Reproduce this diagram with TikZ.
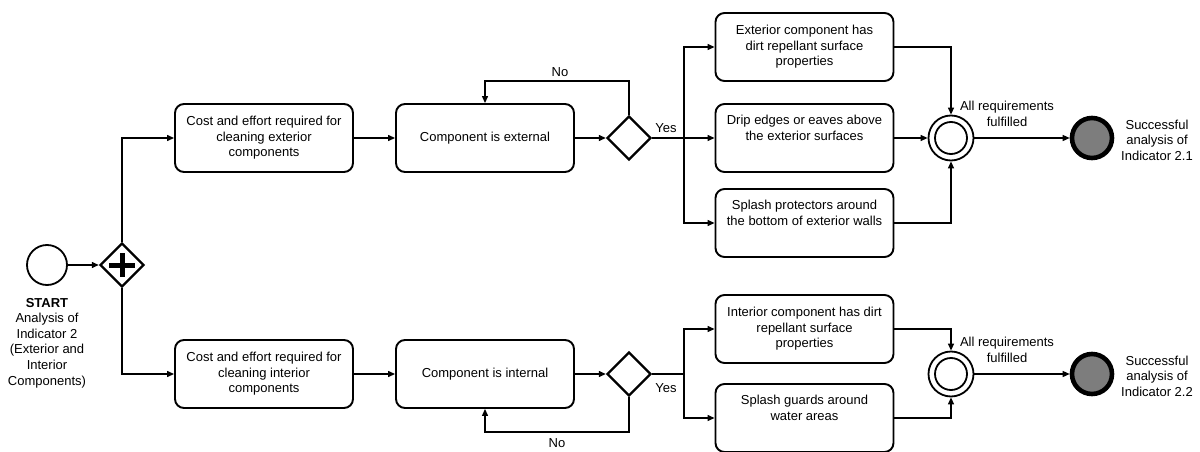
\documentclass[tikz,border=0pt]{standalone}
\usepackage{fontspec}
\setmainfont{Liberation Sans}
\usetikzlibrary{arrows.meta,shapes.geometric}
\definecolor{endgray}{RGB}{125,125,125}
\begin{document}
\begin{tikzpicture}[x=1pt,y=-1pt,
  txt/.style={font=\fontsize{13}{15.6}\selectfont, align=center},
  task/.style={txt, draw, line width=1.9pt, rounded corners=9pt,
    minimum width=178pt, minimum height=68pt, inner sep=2pt},
  gw/.style={diamond, draw, line width=2.4pt, minimum width=44pt,
    minimum height=44pt, inner sep=0pt},
  startev/.style={circle, draw, line width=1.8pt, minimum size=40pt, inner sep=0pt},
  interev/.style={circle, draw, line width=1.8pt, minimum size=45pt, inner sep=0pt},
  interin/.style={circle, draw, line width=1.8pt, minimum size=32pt, inner sep=0pt},
  endev/.style={circle, draw, line width=4.6pt, fill=endgray, minimum size=40pt, inner sep=0pt},
  flow/.style={line width=1.3pt, -{Triangle[length=7pt,width=6pt]}},
  plain/.style={line width=1.3pt},
  lbl/.style={txt, inner sep=0pt}
]
\useasboundingbox (0,0) rectangle (1200,452);

% start event and parallel split
\node[startev] (start) at (47,265) {};
\node[lbl] (startlbl) at (47,343)
  {\textbf{START}\\Analysis of\\Indicator 2\\(Exterior and\\Interior\\Components)};
\node[gw] (fork) at (122,265) {};
\draw[line width=5pt] (fork.center) ++(-13,0) -- ++(26,0)
                      (fork.center) ++(0,-12) -- ++(0,24);

% exterior branch
\node[task] (a1) at (264,138) {Cost and effort required for\\cleaning exterior\\components};
\node[task] (a2) at (485,138) {Component is external};
\node[gw] (g1) at (629,138) {};
\coordinate (j1) at (684,138);
\coordinate (n1) at (629,81);
\node[task] (c1) at (804.5,47) {Exterior component has\\dirt repellant surface\\properties};
\node[task] (c2) at (804.5,138) {Drip edges or eaves above\\the exterior surfaces\\\strut};
\node[task] (c3) at (804.5,223) {Splash protectors around\\the bottom of exterior walls\\\strut};
\node[interev] (m1) at (951,138) {};
\node[interin] (m1i) at (951,138) {};
\node[endev] (e1) at (1092,138) {};

\node[lbl] (no1) at (560,72) {No};
\node[lbl] (yes1) at (666,128) {Yes};
\node[lbl] (req1) at (1007,114) {All requirements\\fulfilled};
\node[lbl] (s1) at (1157,140) {Successful\\analysis of\\Indicator 2.1};

% interior branch
\node[task] (b1) at (264,374) {Cost and effort required for\\cleaning interior\\components};
\node[task] (b2) at (485,374) {Component is internal};
\node[gw] (g2) at (629,374) {};
\coordinate (j2) at (684,374);
\coordinate (n2) at (629,432);
\node[task] (d1) at (804.5,329) {Interior component has dirt\\repellant surface\\properties};
\node[task] (d2) at (804.5,418) {Splash guards around\\water areas\\\strut};
\node[interev] (m2) at (951,374) {};
\node[interin] (m2i) at (951,374) {};
\node[endev] (e2) at (1092,374) {};

\node[lbl] (yes2) at (666,388) {Yes};
\node[lbl] (no2) at (557,443) {No};
\node[lbl] (req2) at (1007,350) {All requirements\\fulfilled};
\node[lbl] (s2) at (1157,376) {Successful\\analysis of\\Indicator 2.2};

% sequence flows
\draw[flow] (start) -- (fork);
\draw[flow] (fork.north) |- (a1.west);
\draw[flow] (fork.south) |- (b1.west);

\draw[flow] (a1) -- (a2);
\draw[flow] (a2) -- (g1);
\draw[plain] (g1.east) -- (j1);
\draw[flow] (j1) |- (c1.west);
\draw[flow] (j1) -- (c2.west);
\draw[flow] (j1) |- (c3.west);
\draw[flow] (g1.north) |- (a2.north |- n1) -- (a2.north);
\draw[flow] (c1.east) -| (m1.north);
\draw[flow] (c2) -- (m1);
\draw[flow] (c3.east) -| (m1.south);
\draw[flow] (m1) -- (e1);

\draw[flow] (b1) -- (b2);
\draw[flow] (b2) -- (g2);
\draw[plain] (g2.east) -- (j2);
\draw[flow] (j2) |- (d1.west);
\draw[flow] (j2) |- (d2.west);
\draw[flow] (g2.south) |- (b2.south |- n2) -- (b2.south);
\draw[flow] (d1.east) -| (m2.north);
\draw[flow] (d2.east) -| (m2.south);
\draw[flow] (m2) -- (e2);
\end{tikzpicture}
\end{document}
